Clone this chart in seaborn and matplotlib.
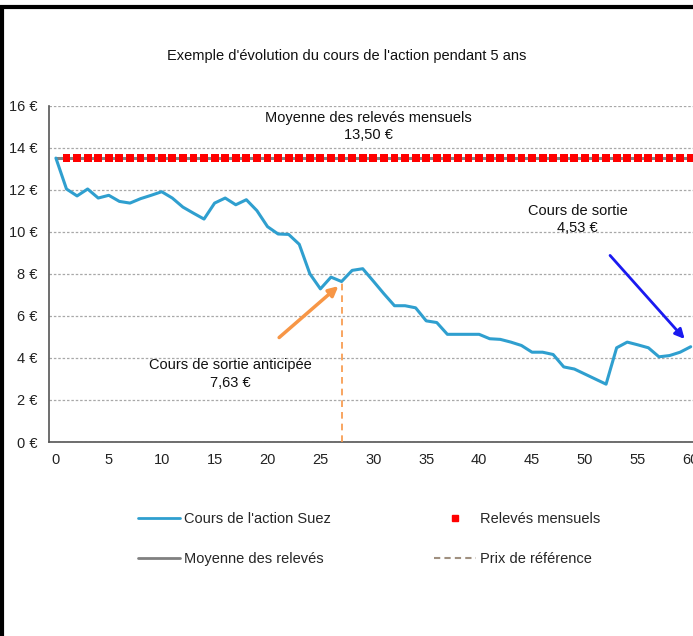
import numpy as np
import matplotlib
matplotlib.use("Agg")
import matplotlib.pyplot as plt
from matplotlib.lines import Line2D
from matplotlib.patches import Rectangle
import seaborn as sns

# Data (monthly, 5 years)
mois = list(range(61))
cours_suez = [13.50, 12.03, 11.70, 12.03, 11.60, 11.73, 11.44, 11.36, 11.57, 11.73,
              11.90, 11.60, 11.17, 10.88, 10.60, 11.36, 11.60, 11.28, 11.52, 11.00,
              10.24, 9.89, 9.87, 9.40, 8.00, 7.28, 7.84, 7.63, 8.16, 8.24,
              7.65, 7.05, 6.48, 6.48, 6.38, 5.76, 5.68, 5.12, 5.12, 5.12,
              5.12, 4.91, 4.88, 4.75, 4.59, 4.27, 4.27, 4.16, 3.57, 3.47,
              3.23, 2.99, 2.75, 4.48, 4.75, 4.62, 4.48, 4.05, 4.11, 4.27,
              4.53]
moyenne = 13.50
mois_releves = mois[1:]
releves = [moyenne] * len(mois_releves)
mois_sortie_anticipee = 27
cours_sortie_anticipee = 7.63
cours_sortie = 4.53

xticks = list(range(0, 61, 5))
yticks = list(range(0, 17, 2))
ylabels = [f"{v} €" for v in yticks]

sns.set_style("white")
plt.rcParams["font.family"] = ["Liberation Sans", "DejaVu Sans"]

fig = plt.figure(figsize=(6.93, 6.36), dpi=100)
ax = fig.add_axes([48.5 / 693, 1 - 442 / 636, (696 - 48.5) / 693, (442 - 105.5) / 636])

# grey mean line, red monthly readings, blue share price
sns.lineplot(x=mois, y=[moyenne] * len(mois), ax=ax, color="#808080", lw=2.2, zorder=2)
sns.scatterplot(x=mois_releves, y=releves, ax=ax, color="#FF0000", marker="s", s=32,
                edgecolor="none", zorder=3)
sns.lineplot(x=mois, y=cours_suez, ax=ax, color="#2F9FCF", lw=2.2, zorder=4)

# reference price
ax.vlines(mois_sortie_anticipee, 0, cours_sortie_anticipee, color="#F79646", lw=1.2,
          linestyles=(0, (4, 3)), zorder=3)

ax.set_xlim(-0.7, 60.5)
ax.set_ylim(0, 16)
ax.set_xticks(xticks)
ax.set_xticks([-0.5] + [t - 0.5 for t in xticks[1:]], minor=True)
ax.set_yticks(yticks)
ax.set_yticklabels(ylabels)
ax.tick_params(axis="x", which="major", length=0, pad=8, labelsize=10.5, colors="#222222")
ax.tick_params(axis="x", which="minor", length=5, width=1.2, color="#555555", direction="out")
ax.tick_params(axis="y", length=5, width=1.2, color="#555555", direction="out",
               labelsize=10.5, labelcolor="#222222", pad=3)
ax.set_xlabel("")
ax.set_ylabel("")
for s in ["top", "right"]:
    ax.spines[s].set_visible(False)
for s in ["left", "bottom"]:
    ax.spines[s].set_color("#555555")
    ax.spines[s].set_linewidth(1.2)
ax.yaxis.grid(True, color="#A8A8A8", linestyle=(0, (2, 1.5)), lw=0.9)
ax.set_axisbelow(True)

# annotations
ax.text(29.5, 15.0, "Moyenne des relevés mensuels\n13,50 €", ha="center", va="center",
        fontsize=10.5, linespacing=1.35, color="#111111")
ax.text(16.5, 3.22, "Cours de sortie anticipée\n7,63 €", ha="center", va="center",
        fontsize=10.5, linespacing=1.35, color="#111111")
ax.text(49.3, 10.58, "Cours de sortie\n4,53 €", ha="center", va="center",
        fontsize=10.5, linespacing=1.35, color="#111111")
ax.annotate("", xy=(26.9, 7.5), xytext=(20.9, 4.88),
            arrowprops=dict(arrowstyle="-|>", color="#F79646", lw=2.5, mutation_scale=14))
ax.annotate("", xy=(59.6, 4.8), xytext=(52.2, 8.97),
            arrowprops=dict(arrowstyle="-|>", color="#1A1AF0", lw=2.0, mutation_scale=14))

fig.text(347 / 693, 1 - 56 / 636, "Exemple d'évolution du cours de l'action pendant 5 ans",
         ha="center", va="center", fontsize=10.5, color="#111111")

# legend (two columns placed like the original)
h_suez = Line2D([], [], color="#2F9FCF", lw=2)
h_moy = Line2D([], [], color="#808080", lw=2)
h_rel = Line2D([], [], color="#FF0000", marker="s", ls="none", markersize=5)
h_prix = Line2D([], [], color="#A09080", lw=1.5, ls=(0, (3, 2)))
common = dict(frameon=False, fontsize=10.5, handlelength=2.9, handletextpad=0.25,
              labelspacing=1.75, borderpad=0, borderaxespad=0, loc="center left")
fig.legend([h_suez, h_moy], ["Cours de l'action Suez", "Moyenne des relevés"],
           bbox_to_anchor=(138 / 693, 1 - 539 / 636), **common)
fig.legend([h_rel, h_prix], ["Relevés mensuels", "Prix de référence"],
           bbox_to_anchor=(434 / 693, 1 - 539 / 636), **common)

# black frame of the screenshot
fig.patches.append(Rectangle((2 / 693, -0.1), 1.2, 1 - 7 / 636 + 0.1, transform=fig.transFigure,
                             fill=False, lw=3, ec="black"))

fig.savefig("out.png", dpi=100)
